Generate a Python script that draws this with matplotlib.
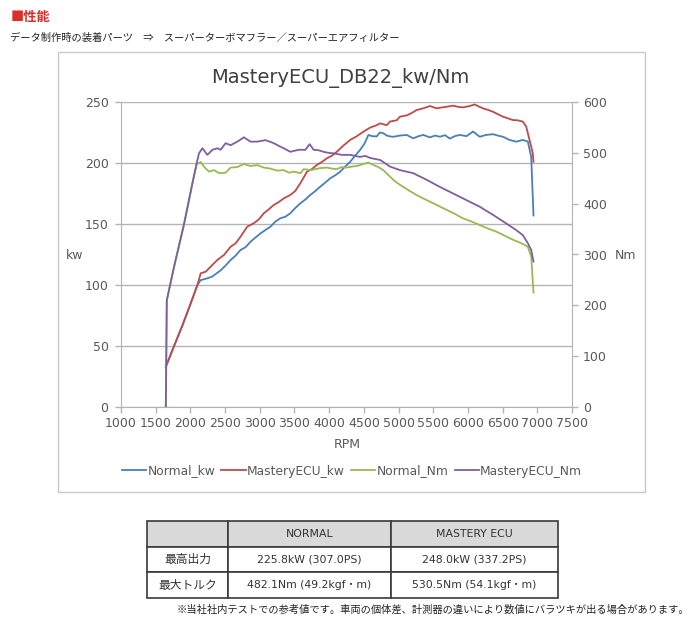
import matplotlib.pyplot as plt
from matplotlib.patches import Rectangle

# Datos (RPM -> kw / Nm)
rpm_normal_kw = [1646, 1765, 1886, 2005, 2101, 2149, 2245, 2317, 2436, 2508,
                 2580, 2650, 2723, 2795, 2867, 2940, 3010, 3080, 3154, 3225,
                 3297, 3370, 3441, 3510, 3585, 3655, 3728, 3800, 3872, 3945,
                 4016, 4090, 4159, 4230, 4303, 4375, 4446, 4510, 4566, 4620,
                 4686, 4730, 4781, 4830, 4877, 4925, 5021, 5117, 5212, 5290,
                 5356, 5450, 5530, 5595, 5670, 5739, 5810, 5882, 5980, 6074,
                 6170, 6260, 6361, 6430, 6504, 6600, 6696, 6791, 6864, 6912,
                 6945]
normal_kw = [33, 50, 67, 85, 100, 104, 105.5, 107, 112, 116,
             120.5, 124, 128.7, 131, 135.5, 139, 142.3, 145, 147.8, 152,
             154.7, 156, 158.8, 163, 167, 170, 173.8, 177, 180.6, 184,
             187.5, 190, 192.9, 197, 201, 206, 210.7, 216, 223, 222,
             221.8, 225, 224.4, 222.5, 221.8, 221.5, 222.5, 223, 220.2, 222,
             223, 221, 222.5, 221.5, 222.8, 220, 222, 223, 222, 225.8,
             221.5, 223, 223.6, 222.5, 221.5, 218.9, 217.5, 218.9, 217.5, 205,
             157]

rpm_mastery_kw = [1646, 1765, 1886, 2005, 2101, 2149, 2221, 2292, 2388, 2484,
                  2580, 2650, 2723, 2819, 2914, 2990, 3058, 3130, 3201, 3275,
                  3345, 3441, 3510, 3585, 3681, 3750, 3823, 3900, 3968, 4040,
                  4112, 4200, 4303, 4400, 4494, 4590, 4686, 4734, 4830, 4877,
                  4973, 5021, 5117, 5190, 5261, 5356, 5452, 5548, 5620, 5691,
                  5787, 5860, 5930, 6026, 6098, 6150, 6217, 6290, 6361, 6430,
                  6504, 6580, 6648, 6720, 6791, 6840, 6888, 6935, 6945]
mastery_kw = [33, 50, 67, 85, 100, 109.6, 110.9, 115, 120.5, 124.6,
              131.4, 134, 139.6, 147.8, 150.6, 154, 158.8, 162, 165.6, 168,
              171, 173.8, 177, 183.4, 192.9, 195, 198.4, 201, 203.9, 206,
              209.3, 214, 218.9, 222, 225.7, 229, 231, 232.5, 231, 234,
              235, 238, 239, 241, 243.4, 244.8, 246.7, 244.8, 245.5, 246.1,
              247, 246, 245.6, 246.7, 248.0, 246.5, 244.8, 243.5, 242, 240,
              238, 236.5, 235.2, 235, 233.9, 229.8, 218.9, 208, 201]

rpm_normal_nm = [1646, 1660, 1765, 1909, 2029, 2090, 2124, 2149, 2200, 2269,
                 2341, 2412, 2508, 2580, 2676, 2771, 2867, 2963, 3058, 3154,
                 3250, 3345, 3420, 3489, 3585, 3633, 3729, 3800, 3872, 3967,
                 4040, 4111, 4180, 4254, 4330, 4398, 4494, 4566, 4638, 4710,
                 4781, 4877, 4950, 5021, 5068, 5160, 5260, 5360, 5452, 5570,
                 5691, 5810, 5930, 6050, 6170, 6290, 6409, 6530, 6648, 6740,
                 6816, 6864, 6912, 6945]
normal_nm = [0, 210, 276, 358, 440, 478, 480, 482.1, 472, 463,
             466, 460, 461, 471, 472, 478, 474, 476, 471, 469,
             465, 466, 461, 463, 460, 468, 466, 468, 470, 471,
             469, 468, 472, 471, 473, 474, 478, 481, 476, 472,
             466, 453, 444, 437, 433, 425, 417, 410, 404, 396,
             388, 380, 371, 365, 358, 351, 345, 337, 329, 324,
             319, 315, 296, 225]

rpm_mastery_nm = [1646, 1660, 1765, 1909, 2029, 2090, 2124, 2173, 2245, 2317,
                  2389, 2436, 2508, 2580, 2676, 2771, 2867, 2963, 3082, 3202,
                  3270, 3345, 3441, 3500, 3561, 3657, 3719, 3776, 3850, 3919,
                  3990, 4063, 4183, 4303, 4370, 4446, 4520, 4590, 4660, 4734,
                  4800, 4877, 5021, 5212, 5404, 5595, 5787, 5978, 6170, 6361,
                  6553, 6696, 6792, 6864, 6912, 6945]
mastery_nm = [0, 210, 276, 361, 440, 479, 499, 509, 496, 506,
              509, 506, 519, 515, 522, 530.5, 522, 522, 525, 519,
              514, 509, 502, 504, 506, 506, 517, 506, 505, 502,
              500, 499, 496, 496, 494, 492, 494, 490, 488, 486,
              480, 473, 466, 460, 447, 433, 420, 407, 394, 378,
              361, 348, 338, 322, 309, 286]

series_names = ['Normal_kw', 'MasteryECU_kw', 'Normal_Nm', 'MasteryECU_Nm']
series_colors = ['#4a7ebb', '#be4b48', '#98b954', '#7d60a0']

table_cols = ['', 'NORMAL', 'MASTERY ECU']
table_rows = [['最高出力', '225.8kW (307.0PS)', '248.0kW (337.2PS)'],
              ['最大トルク', '482.1Nm (49.2kgf・m)', '530.5Nm (54.1kgf・m)']]

jp = ['Noto Sans CJK JP', 'DejaVu Sans']
mix = ['DejaVu Sans', 'Noto Sans CJK JP']
gris = '#595959'

fig = plt.figure(figsize=(7, 6.29), dpi=100)

# encabezado
fig.text(11 / 700, 1 - 17 / 629, '■性能', family=jp, fontsize=9.5,
         color='#d9302c', weight='bold', va='center')
fig.text(10 / 700, 1 - 38 / 629,
         'データ制作時の装着パーツ　⇒　スーパーターボマフラー／スーパーエアフィルター',
         family=jp, fontsize=7.4, color='#222222', va='center')

# marco del grafico
fig.patches.append(Rectangle((58 / 700, 1 - 492 / 629), 587 / 700, 440 / 629,
                             transform=fig.transFigure, fill=False,
                             edgecolor='#c8c8c8', lw=1))

ax = fig.add_axes([121 / 700, 1 - 407 / 629, 451 / 700, 305 / 629])
ax2 = ax.twinx()

ax.plot(rpm_normal_kw, normal_kw, color=series_colors[0], lw=1.3, label=series_names[0])
ax.plot(rpm_mastery_kw, mastery_kw, color=series_colors[1], lw=1.3, label=series_names[1])
ax2.plot(rpm_normal_nm, normal_nm, color=series_colors[2], lw=1.3, label=series_names[2])
ax2.plot(rpm_mastery_nm, mastery_nm, color=series_colors[3], lw=1.3, label=series_names[3])

ax.set_xlim(1000, 7500)
ax.set_ylim(0, 250)
ax2.set_ylim(0, 600)
ax.set_xticks(range(1000, 7501, 500))
ax.set_yticks(range(0, 251, 50))
ax2.set_yticks(range(0, 601, 100))
ax.grid(axis='y', color='#b4b4b4', lw=1)
ax.set_axisbelow(True)

for a in (ax, ax2):
    a.spines['top'].set_visible(False)
    for s in ('left', 'right', 'bottom'):
        a.spines[s].set_color('#b4b4b4')
    a.tick_params(colors='#b4b4b4', labelcolor=gris, labelsize=9, length=4, width=1)
ax.spines['right'].set_visible(False)
ax2.spines['left'].set_visible(False)
ax2.spines['bottom'].set_visible(False)
ax.tick_params(axis='y', pad=5)
ax2.tick_params(axis='y', pad=4)
ax.tick_params(axis='x', pad=3)

fig.text(340 / 700, 1 - 78 / 629, 'MasteryECU_DB22_kw/Nm', fontsize=14,
         color='#404040', ha='center', va='center')
fig.text(347 / 700, 1 - 445 / 629, 'RPM', fontsize=9, color=gris, ha='center', va='center')
fig.text(75 / 700, 1 - 255 / 629, 'kw', fontsize=9, color=gris, ha='center', va='center')
fig.text(625 / 700, 1 - 255 / 629, 'Nm', fontsize=9, color=gris, ha='center', va='center')

h1, l1 = ax.get_legend_handles_labels()
h2, l2 = ax2.get_legend_handles_labels()
leg = fig.legend(h1 + h2, l1 + l2, loc='center', bbox_to_anchor=(352 / 700, 1 - 471 / 629),
                 ncol=4, frameon=False, fontsize=8.8, handlelength=2.0,
                 handletextpad=0.1, columnspacing=0.5)
for t in leg.get_texts():
    t.set_color(gris)

# tabla de resultados
axt = fig.add_axes([147 / 700, 1 - 598 / 629, 411 / 700, 77 / 629])
axt.axis('off')
tbl = axt.table(cellText=table_rows, colLabels=table_cols, cellLoc='center',
                bbox=[0, 0, 1, 1], colWidths=[81, 163, 167])
tbl.auto_set_font_size(False)
for (r, c), cell in tbl.get_celld().items():
    cell.set_edgecolor('#3a3a3a')
    cell.set_linewidth(1.2)
    cell.get_text().set_fontsize(7.8 if c > 0 else 8.5)
    cell.get_text().set_color('#333333')
    cell.get_text().set_family(mix if c > 0 else jp)
    if r == 0:
        cell.set_facecolor('#d9d9d9')

fig.text(689 / 700, 1 - 610 / 629,
         '※当社社内テストでの参考値です。車両の個体差、計測器の違いにより数値にバラツキが出る場合があります。',
         family=jp, fontsize=7.4, color='#222222', ha='right', va='center')

fig.savefig('out.png', dpi=100)
